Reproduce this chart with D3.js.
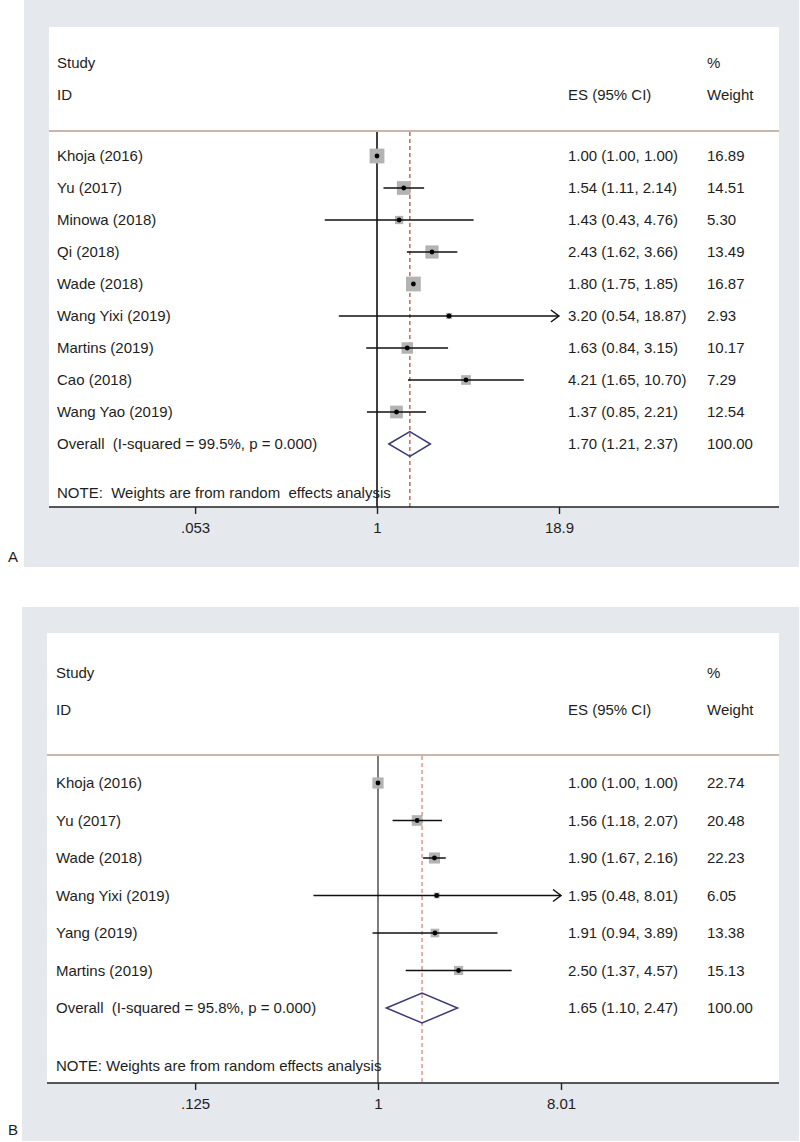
<!DOCTYPE html>
<html><head><meta charset="utf-8">
<script src="https://cdn.jsdelivr.net/npm/d3@7"></script>
<style>body{margin:0;background:#fff}svg{display:block}text{font-family:"Liberation Sans",Arial,sans-serif;fill:#1e1e1e;white-space:pre}</style>
</head><body><div id="c"></div>
<script>
// ---------- DATA ----------
const studiesA = ["Khoja (2016)","Yu (2017)","Minowa (2018)","Qi (2018)","Wade (2018)","Wang Yixi (2019)","Martins (2019)","Cao (2018)","Wang Yao (2019)"];
const esA   = [1.00,1.54,1.43,2.43,1.80,3.20,1.63,4.21,1.37];
const lowA  = [1.00,1.11,0.43,1.62,1.75,0.54,0.84,1.65,0.85];
const highA = [1.00,2.14,4.76,3.66,1.85,18.87,3.15,10.70,2.21];
const weightA = [16.89,14.51,5.30,13.49,16.87,2.93,10.17,7.29,12.54];
const overallA = [1.70,1.21,2.37];
const overallWeightA = 100.00;
const overallLabelA = "Overall  (I-squared = 99.5%, p = 0.000)";
const ticksA = [0.053,1,18.9];
const tickLabelsA = [".053","1","18.9"];

const studiesB = ["Khoja (2016)","Yu (2017)","Wade (2018)","Wang Yixi (2019)","Yang (2019)","Martins (2019)"];
const esB   = [1.00,1.56,1.90,1.95,1.91,2.50];
const lowB  = [1.00,1.18,1.67,0.48,0.94,1.37];
const highB = [1.00,2.07,2.16,8.01,3.89,4.57];
const weightB = [22.74,20.48,22.23,6.05,13.38,15.13];
const overallB = [1.65,1.10,2.47];
const overallWeightB = 100.00;
const overallLabelB = "Overall  (I-squared = 95.8%, p = 0.000)";
const ticksB = [0.125,1,8.01];
const tickLabelsB = [".125","1","8.01"];

const noteA = "NOTE:  Weights are from random  effects analysis";
const noteB = "NOTE: Weights are from random effects analysis";

// ---------- DRAW ----------
const svg = d3.select("#c").append("svg").attr("width",800).attr("height",1142);

function panel(o){
  const g = svg.append("g");
  g.append("rect").attr("x",o.gx).attr("y",o.gy).attr("width",o.gw).attr("height",o.gh).attr("fill","#e5e8ed");
  g.append("rect").attr("x",o.wx).attr("y",o.wy).attr("width",o.ww).attr("height",o.axisY-o.wy).attr("fill","#fff");
  const x = d3.scaleLog().domain([1/o.ticks[2], o.ticks[2]]).range([o.x0,o.x1]);
  const n = o.studies.length;
  const y = i => o.row0 + i*o.rowH;
  const fs = o.fs;
  const hdr = [[o.labelX,o.h1,"Study"],[o.wtX,o.h1,"%"],[o.labelX,o.h2,"ID"],[o.esX,o.h2,"ES (95% CI)"],[o.wtX,o.h2,"Weight"]];
  g.selectAll("text.h").data(hdr).join("text").attr("x",d=>d[0]).attr("y",d=>d[1]).attr("dy","0.35em").style("font-size",fs+"px").text(d=>d[2]);
  g.append("line").attr("x1",o.wx).attr("x2",o.wx+o.ww).attr("y1",o.sepY).attr("y2",o.sepY).attr("stroke","#cbb6aa").attr("stroke-width",2);
  g.append("line").attr("x1",x(1)).attr("x2",x(1)).attr("y1",o.sepY+1).attr("y2",o.axisY).attr("stroke","#111").attr("stroke-width",o.nullW);
  g.append("line").attr("x1",x(o.overall[0])).attr("x2",x(o.overall[0])).attr("y1",o.sepY+1).attr("y2",o.axisY).attr("stroke",o.dashC).attr("stroke-width",1.3).attr("stroke-dasharray","4,3");
  const idx = d3.range(n);
  g.selectAll("text.s").data(idx).join("text").attr("x",o.labelX).attr("y",y).attr("dy","0.35em").style("font-size",fs+"px").text(i=>o.studies[i]);
  g.selectAll("text.e").data(idx).join("text").attr("x",o.esX).attr("y",y).attr("dy","0.35em").style("font-size",fs+"px")
    .text(i=>`${o.es[i].toFixed(2)} (${o.low[i].toFixed(2)}, ${o.high[i].toFixed(2)})`);
  g.selectAll("text.w").data(idx).join("text").attr("x",o.wtX).attr("y",y).attr("dy","0.35em").style("font-size",fs+"px").text(i=>o.weight[i].toFixed(2));
  g.selectAll("rect.sq").data(idx).join("rect")
    .attr("x",i=>x(o.es[i])-o.k*Math.sqrt(o.weight[i])/2).attr("y",i=>y(i)-o.k*Math.sqrt(o.weight[i])/2)
    .attr("width",i=>o.k*Math.sqrt(o.weight[i])).attr("height",i=>o.k*Math.sqrt(o.weight[i])).attr("fill","#b3b3b3");
  g.selectAll("line.ci").data(idx.filter(i=>o.high[i]>o.low[i])).join("line")
    .attr("x1",i=>x(o.low[i])).attr("x2",i=>x(o.high[i])).attr("y1",y).attr("y2",y).attr("stroke","#111").attr("stroke-width",1.5);
  const maxV = o.ticks[2];
  g.selectAll("path.arr").data(idx.filter(i=>o.high[i]>=maxV*0.98)).join("path")
    .attr("d",i=>{const ax=x(Math.min(o.high[i],maxV)), ay=y(i); return `M${ax-8},${ay-6}L${ax},${ay}L${ax-8},${ay+6}`;})
    .attr("fill","none").attr("stroke","#111").attr("stroke-width",1.5);
  g.selectAll("circle.pt").data(idx).join("circle").attr("cx",i=>x(o.es[i])).attr("cy",y).attr("r",2.4).attr("fill","#000");
  const yo = y(n);
  g.append("text").attr("x",o.labelX).attr("y",yo).attr("dy","0.35em").style("font-size",fs+"px").text(o.overallLabel);
  g.append("text").attr("x",o.esX).attr("y",yo).attr("dy","0.35em").style("font-size",fs+"px")
    .text(`${o.overall[0].toFixed(2)} (${o.overall[1].toFixed(2)}, ${o.overall[2].toFixed(2)})`);
  g.append("text").attr("x",o.wtX).attr("y",yo).attr("dy","0.35em").style("font-size",fs+"px").text(o.overallWeight.toFixed(2));
  g.append("path").attr("d",`M${x(o.overall[1])},${yo}L${x(o.overall[0])},${yo-o.dh}L${x(o.overall[2])},${yo}L${x(o.overall[0])},${yo+o.dh}Z`)
    .attr("fill","none").attr("stroke","#3b3b78").attr("stroke-width",1.5);
  g.append("text").attr("x",o.labelX).attr("y",o.noteY).attr("dy","0.35em").style("font-size",fs+"px").text(o.note);
  const ax = g.append("g").attr("transform",`translate(0,${o.axisY})`)
    .call(d3.axisBottom(x).tickValues(o.ticks).tickFormat((d,i)=>o.tickLabels[i]).tickSize(7).tickPadding(8));
  ax.select(".domain").attr("d",`M${o.wx},0H${o.wx+o.ww}`).attr("stroke","#222").attr("stroke-width",1.6);
  ax.selectAll(".tick line").attr("stroke","#222").attr("stroke-width",1.4);
  ax.selectAll(".tick text").style("font-size",fs+"px").style("font-family","Liberation Sans, Arial, sans-serif").attr("fill","#1e1e1e");
  g.append("text").attr("x",o.panelLX).attr("y",o.panelLY).attr("dy","0.35em").style("font-size",fs+"px").text(o.panelLabel);
}

panel({studies:studiesA,es:esA,low:lowA,high:highA,weight:weightA,overall:overallA,overallWeight:overallWeightA,overallLabel:overallLabelA,
  ticks:ticksA,tickLabels:tickLabelsA,panelLabel:"A",note:noteA,
  gx:24,gy:0,gw:775,gh:567,wx:49,wy:27,ww:730,axisY:507,x0:195,x1:559,
  labelX:57,esX:568,wtX:707,h1:63,h2:95,sepY:131,row0:156,rowH:32,noteY:493,
  k:3.6,dh:12.5,fs:15,nullW:1.6,dashC:"#b4553c",panelLX:8,panelLY:557});
panel({studies:studiesB,es:esB,low:lowB,high:highB,weight:weightB,overall:overallB,overallWeight:overallWeightB,overallLabel:overallLabelB,
  ticks:ticksB,tickLabels:tickLabelsB,panelLabel:"B",note:noteB,
  gx:22,gy:607,gw:777,gh:534,wx:47,wy:633,ww:732,axisY:1083,x0:195,x1:561,
  labelX:56,esX:568,wtX:707,h1:673,h2:710,sepY:755,row0:783,rowH:37.5,noteY:1066,
  k:2.35,dh:15,fs:15,nullW:1.1,dashC:"#d98a77",panelLX:8,panelLY:1130});
</script></body></html>
